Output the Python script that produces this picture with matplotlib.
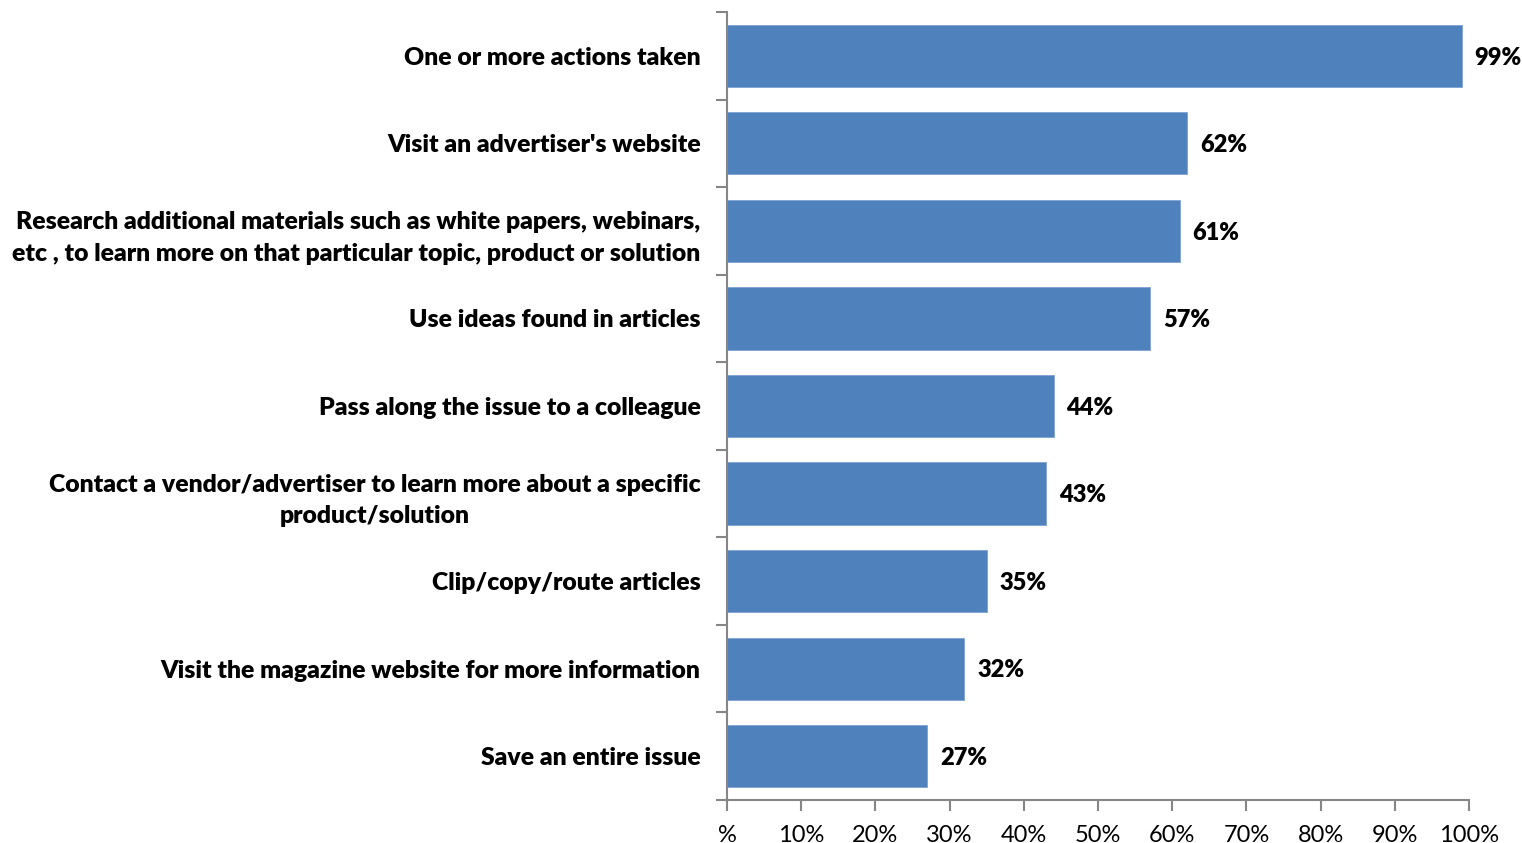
import matplotlib
matplotlib.use("Agg")

import matplotlib.pyplot as plt
from matplotlib.ticker import FixedLocator, MultipleLocator, FuncFormatter

categories = [
    "One or more actions taken",
    "Visit an advertiser's website",
    "Research additional materials such as white papers, webinars,\netc , to learn more on that particular topic, product or solution",
    "Use ideas found in articles",
    "Pass along the issue to a colleague",
    "Contact a vendor/advertiser to learn more about a specific\nproduct/solution",
    "Clip/copy/route articles",
    "Visit the magazine website for more information",
    "Save an entire issue",
]
values = [99, 62, 61, 57, 44, 43, 35, 32, 27]

plt.rcParams["font.family"] = ["Lato", "DejaVu Sans"]

fig = plt.figure(figsize=(15.22, 8.43), dpi=100)
ax = fig.add_axes([0.4777, 0.051, 0.4875, 0.9348])

n = len(categories)
ypos = list(range(n))
ax.barh(ypos, values, height=0.71, color="#4F81BD", edgecolor="#7FA1D0", linewidth=0.6)
ax.set_ylim(n - 0.5, -0.5)
ax.set_xlim(0, 100)

for y, v in zip(ypos, values):
    ax.text(v + 1.75, y + 0.02, f"{v}%", va="center", ha="left", fontsize=17, fontweight="heavy")

axis_color = "#868686"
for side in ["top", "right"]:
    ax.spines[side].set_visible(False)
for side in ["left", "bottom"]:
    ax.spines[side].set_color(axis_color)
    ax.spines[side].set_linewidth(1.5)

# category labels at bar centres, tick marks between categories
ax.yaxis.set_major_locator(FixedLocator(ypos))
ax.set_yticklabels(categories, fontsize=17.8, fontweight="heavy", linespacing=1.55)
ax.yaxis.set_minor_locator(FixedLocator([i - 0.5 for i in range(n + 1)]))
ax.tick_params(axis="y", which="major", length=0, pad=19)
ax.tick_params(axis="y", which="minor", length=8, width=1.5, color=axis_color)
ax.get_yticklabels()[5].set_multialignment("center")

ax.xaxis.set_major_locator(MultipleLocator(10))
ax.xaxis.set_major_formatter(FuncFormatter(lambda x, p: "%" if x == 0 else f"{int(x)}%"))
ax.tick_params(axis="x", which="major", length=8, width=1.5, color=axis_color,
               labelsize=17, pad=10)

fig.savefig("out.png", dpi=100)
plt.close(fig)
